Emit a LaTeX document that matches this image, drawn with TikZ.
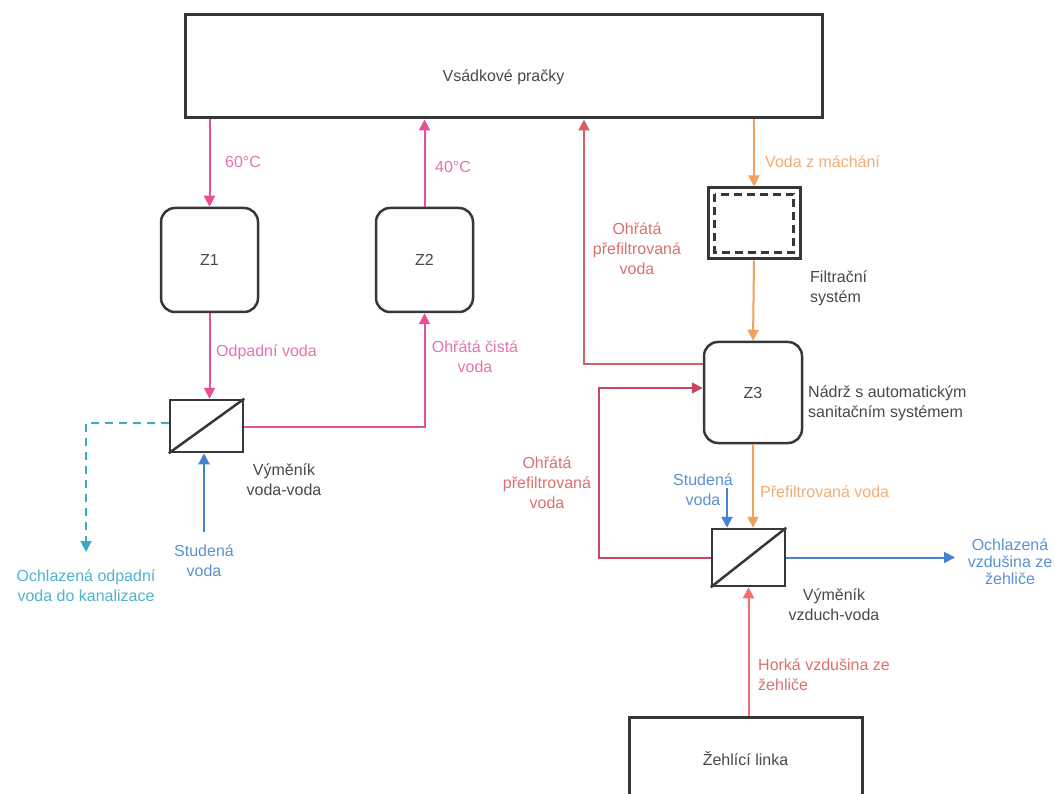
\documentclass[tikz,border=0pt]{standalone}
\usepackage{fontspec}
\setmainfont{Liberation Sans}
\usetikzlibrary{arrows.meta}
\definecolor{vpink}{RGB}{230,80,150}
\definecolor{vpinktxt}{RGB}{228,115,172}
\definecolor{vorange}{RGB}{240,160,90}
\definecolor{vorangetxt}{RGB}{242,172,115}
\definecolor{vred}{RGB}{214,96,96}
\definecolor{vredtxt}{RGB}{218,112,112}
\definecolor{vcrimson}{RGB}{200,70,95}
\definecolor{vhot}{RGB}{240,112,112}
\definecolor{vblue}{RGB}{70,130,210}
\definecolor{vbluetxt}{RGB}{90,145,212}
\definecolor{vcyan}{RGB}{60,170,200}
\definecolor{vcyantxt}{RGB}{80,178,205}
\definecolor{vgray}{RGB}{55,55,55}
\definecolor{vtxt}{RGB}{72,72,72}
\begin{document}
\begin{tikzpicture}[x=1pt,y=-1pt,>={Triangle[length=11pt,width=11pt]},
   font=\fontsize{16}{20}\selectfont,
   tank/.style={draw=vgray,line width=2.5pt,rounded corners=14pt,minimum width=97pt,minimum height=104pt,text=vtxt},
   hxbox/.style={draw=vgray,line width=2.5pt,minimum width=73pt,minimum height=55pt},
   flow/.style={->,line width=2pt},
   lbl/.style={align=center,inner sep=0pt}]
   \useasboundingbox (0,0) rectangle (1055,794);
   \clip (0,0) rectangle (1055,794);
   %boxes
   \node[draw=vgray,line width=3pt,minimum width=637pt,minimum height=103pt,text height=31pt,text depth=0pt,text=vtxt] (washers) at (503.5,66.5) {Vsádkové pračky};
   \node[tank] (Z1) at (209.5,260) {Z1};
   \node[tank] (Z2) at (424.5,260) {Z2};
   \node[tank,minimum width=98pt,minimum height=101pt] (Z3) at (753,392.5) {Z3};
   \node[draw=vgray,line width=3pt,minimum width=92pt,minimum height=71pt] (filter) at (754,223.5) {};
   \draw[vgray,line width=2.5pt,dash pattern=on 8pt off 5pt] ([shift={(8,8)}]filter.north west) rectangle ([shift={(-8,-8)}]filter.south east);
   \node[hxbox,minimum height=52pt] (hx1) at (206.5,426) {};
   \draw[vgray,line width=2.5pt] (hx1.south west) -- (hx1.north east);
   \node[hxbox,minimum height=57pt] (hx2) at (748.5,557.5) {};
   \draw[vgray,line width=2.5pt] (hx2.south west) -- (hx2.north east);
   \node[draw=vgray,line width=3pt,minimum width=233pt,minimum height=83pt,text=vtxt] (ironing) at (745.5,758.5) {Žehlící linka};
   %left loop
   \draw[flow,vpink] (Z1.north |- washers.south) -- (Z1.north);
   \draw[flow,vpink] (Z2.north) -- (Z2.north |- washers.south);
   \draw[flow,vpink] (Z1.south) -- (Z1.south |- hx1.north);
   \draw[flow,vpink] ([yshift=-1pt]hx1.east) -| (Z2.south);
   \coordinate (drain) at (86,552);
   \draw[flow,vcyan,dash pattern=on 8pt off 6pt] ([yshift=3pt]hx1.west) -| (drain);
   \coordinate (cold1) at (204,532);
   \draw[flow,vblue] (cold1) -- (cold1 |- hx1.south);
   %right loop
   \draw[flow,vorange] (filter.north |- washers.south) -- (filter.north);
   \draw[flow,vorange] (filter.south) -- (Z3.north);
   \draw[flow,vred] ([yshift=29pt]Z3.west) -| ([xshift=80.5pt]washers.south);
   \draw[flow,vcrimson] (hx2.west) -- ++(-112,0) |- ([yshift=4.5pt]Z3.west);
   \draw[flow,vorange] (Z3.south) -- (Z3.south |- hx2.north);
   \coordinate (cold2) at (727,488);
   \draw[flow,vblue] (cold2) -- (cold2 |- hx2.north);
   \coordinate (airout) at (955,557.5);
   \draw[flow,vblue] (hx2.east) -- (airout);
   \draw[flow,vhot] (hx2.south |- ironing.north) -- (hx2.south);
   %labels
   \node[lbl,anchor=west,text=vpinktxt] (t60) at (225,162) {60°C};
   \node[lbl,anchor=west,text=vpinktxt] (t40) at (435,167) {40°C};
   \node[lbl,anchor=west,text=vpinktxt] (twaste) at (216,352) {Odpadní voda};
   \node[lbl,text=vpinktxt] (tclean) at (475,357) {Ohřátá čistá\\voda};
   \node[lbl,text=vtxt] (thx1) at (284,480) {Výměník\\voda-voda};
   \node[lbl,text=vbluetxt] (tcold1) at (204,561) {Studená\\voda};
   \node[lbl,text=vcyantxt] (tdrain) at (86,586) {Ochlazená odpadní\\voda do kanalizace};
   \node[lbl,text=vredtxt] (tret1) at (637,249) {Ohřátá\\přefiltrovaná\\voda};
   \node[lbl,anchor=west,text=vorangetxt] (trinse) at (765,162) {Voda z máchání};
   \node[lbl,anchor=west,align=left,text=vtxt] (tfilter) at (810,288) {Filtrační\\systém};
   \node[lbl,anchor=west,align=left,text=vtxt] (ttank) at (808,403) {Nádrž s automatickým\\sanitačním systémem};
   \node[lbl,text=vredtxt] (tret2) at (547,483) {Ohřátá\\přefiltrovaná\\voda};
   \node[lbl,text=vbluetxt] (tcold2) at (703,490) {Studená\\voda};
   \node[lbl,anchor=west,text=vorangetxt] (tfilt) at (760,492) {Přefiltrovaná voda};
   \node[lbl,text=vbluetxt,font=\fontsize{16}{17}\selectfont] (tcool) at (1010,562) {Ochlazená\\vzdušina ze\\žehliče};
   \node[lbl,text=vtxt] (thx2) at (834,605) {Výměník\\vzduch-voda};
   \node[lbl,anchor=west,align=left,text=vredtxt] (thot) at (758,675) {Horká vzdušina ze\\žehliče};
\end{tikzpicture}
\end{document}
